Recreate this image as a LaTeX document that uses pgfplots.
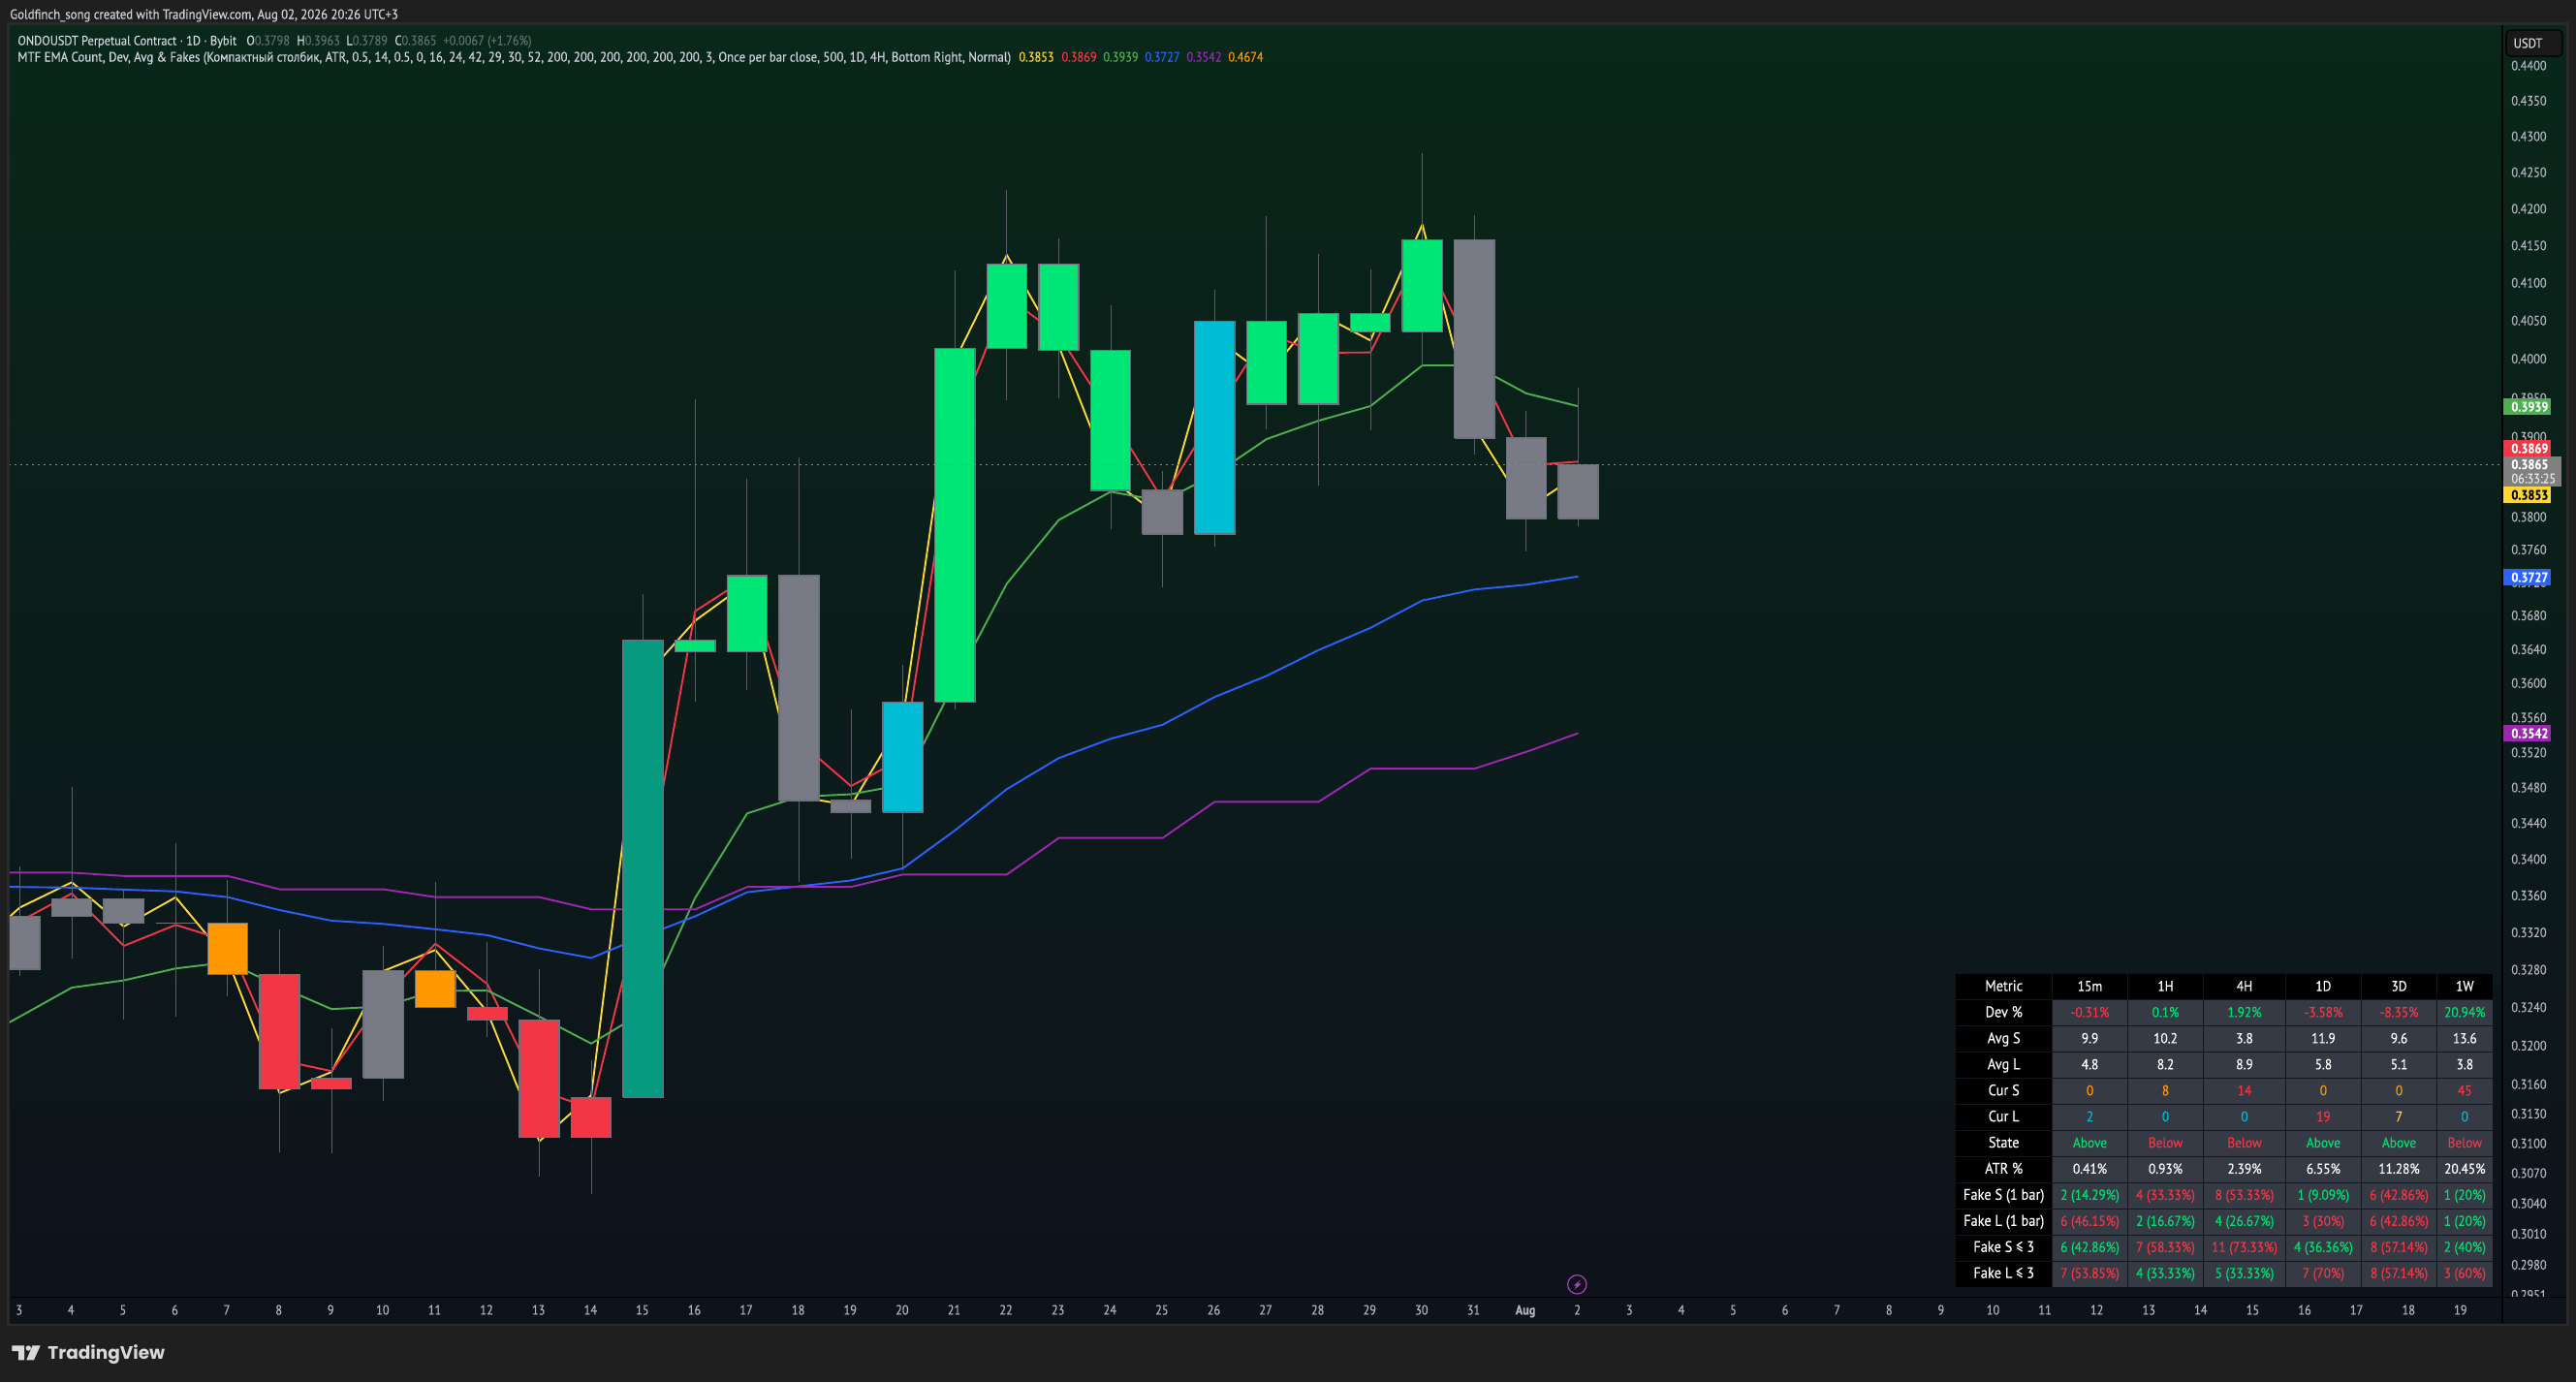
\documentclass[border=0pt]{standalone}
\usepackage{fontspec}
\usepackage{pgfplots}
\usepackage{pgfplotstable}
\pgfplotsset{compat=1.18}
\setmainfont[FakeStretch=0.91,FakeBold=0.25]{PT Sans}
\newfontfamily\tickfam[FakeStretch=0.88,FakeBold=0.25]{PT Sans}
\newfontfamily\pop{Poppins}
\newcommand{\tf}{\fontsize{7}{8.4}\selectfont}
\newcommand{\tkf}{\tickfam\fontsize{7}{8.4}\selectfont}
\newcommand{\lf}{\fontsize{7.9}{9}\selectfont}
\newcommand{\vf}{\fontsize{7.35}{9}\selectfont}
\definecolor{outer}{HTML}{1F1F1F}
\definecolor{frame}{HTML}{2A2A2A}
\definecolor{gtop}{HTML}{09271A}
\definecolor{gbot}{HTML}{0E121B}
\definecolor{strip}{HTML}{0E131C}
\definecolor{axt}{HTML}{B2B5BE}
\definecolor{legt}{HTML}{D1D4DC}
\definecolor{dimt}{HTML}{5F6F6A}
\definecolor{wick}{HTML}{5A5D66}
\definecolor{edge}{HTML}{6E717B}
\definecolor{cg}{HTML}{00E676}
\definecolor{ct}{HTML}{089981}
\definecolor{cc}{HTML}{00BCD4}
\definecolor{cy}{HTML}{787B86}
\definecolor{co}{HTML}{FF9800}
\definecolor{cr}{HTML}{F23645}
\definecolor{yel}{HTML}{FDD835}
\definecolor{grn}{HTML}{4CAF50}
\definecolor{blu}{HTML}{2962FF}
\definecolor{pur}{HTML}{9C27B0}
\definecolor{cellc}{HTML}{363A45}
\definecolor{sepc}{HTML}{11171F}
\definecolor{tg}{HTML}{00E070}
\definecolor{flaggray}{HTML}{808080}

\pgfplotstableread{
i   yel     red     grn     blu     pur
-1  0.32968 0.33300 0.32005 0.33703 0.33848
0   0.33469 0.33319 0.32303 0.33692 0.33848
1   0.33745 0.33621 0.32608 0.33685 0.33848
2   0.33263 0.33052 0.32685 0.33663 0.33812
3   0.33579 0.33280 0.32811 0.33642 0.33812
4   0.32903 0.33107 0.32878 0.33583 0.33812
5   0.31510 0.31850 0.32619 0.33441 0.33668
6   0.31725 0.31734 0.32382 0.33325 0.33668
7   0.32783 0.32492 0.32409 0.33291 0.33668
8   0.33010 0.33080 0.32574 0.33232 0.33583
9   0.32351 0.32646 0.32577 0.33169 0.33583
10  0.31019 0.31536 0.32303 0.33024 0.33583
11  0.31487 0.31355 0.32022 0.32924 0.33449
12  0.36052 0.33586 0.32348 0.33156 0.33449
13  0.36740 0.36856 0.33572 0.33372 0.33449
14  0.37190 0.37260 0.34507 0.33636 0.33694
15  0.34696 0.35327 0.34696 0.33700 0.33694
16  0.34596 0.34815 0.34724 0.33762 0.33694
17  0.35589 0.35134 0.34832 0.33897 0.33831
18  0.39983 0.39114 0.36014 0.34317 0.33831
19  0.41373 0.40817 0.37184 0.34781 0.33831
20  0.40166 0.40308 0.37962 0.35134 0.34232
21  0.38481 0.39268 0.38312 0.35356 0.34232
22  0.37976 0.38216 0.38196 0.35515 0.34232
23  0.40275 0.39294 0.38527 0.35837 0.34640
24  0.39783 0.40330 0.38973 0.36083 0.34640
25  0.40595 0.40078 0.39212 0.36388 0.34640
26  0.40238 0.40082 0.39393 0.36651 0.35012
27  0.41784 0.41447 0.39918 0.36982 0.35012
28  0.39129 0.40002 0.39918 0.37113 0.35012
29  0.38096 0.38644 0.39554 0.37171 0.35204
30  0.38530 0.38690 0.39390 0.37270 0.35420
}\ema

% index, low, body bottom, body top, high, colour
\newcommand{\candle}[6]{%
  \pgfmathsetmacro\xl{#1-0.385}\pgfmathsetmacro\xr{#1+0.385}%
  \addplot[draw=wick,line width=0.5pt] coordinates {(#1,#2)(#1,#5)};%
  \edef\tmp{\noexpand\addplot[fill=#6,draw=edge,line width=0.7pt] coordinates {(\xl,#3)(\xr,#3)(\xr,#4)(\xl,#4)(\xl,#3)};}\tmp
}
\newcommand{\tc}[4]{\node[text=#3,font=\vf,inner sep=0pt,anchor=base] at (#1,{1005+26.92*#2+17.5}) {#4};}
\newcommand{\tl}[2]{\node[text=white,font=\lf,inner sep=0pt,anchor=base] at (2067.7,{1005+26.92*#1+17.5}) {#2};}
\newcommand{\flag}[5]{\fill[#3] (2583,#1) rectangle (2632,#2);
  \node[text=#4,font=\tkf\bfseries,inner sep=0pt,anchor=base west] at (2591,{(#1+#2)/2+5}) {#5};}
\def\cB{2156.5}\def\cC{2234.5}\def\cD{2316}\def\cE{2397.4}\def\cF{2475.5}\def\cG{2543.3}

\begin{document}
\begin{tikzpicture}
\useasboundingbox (0pt,0pt) rectangle (1329pt,-713pt);
\begin{scope}[x=0.5pt,y=-0.5pt]
\fill[outer] (0,0) rectangle (2658,1426);
\fill[frame] (7,23) rectangle (2651,1368);
\shade[top color=gtop,bottom color=gbot] (10.5,26) rectangle (2647.5,1365);
\end{scope}

\begin{axis}[
  at={(5pt,-669pt)},anchor=south west,
  scale only axis,width=1286pt,height=656pt,
  ymode=log,
  xmin=-0.1959,xmax=47.79,ymin=0.2949,ymax=0.44579,
  axis line style={draw=none},
  major tick length=0pt,minor tick length=0pt,
  tick style={draw=none},
  yticklabel pos=right,
  scaled y ticks=false,
  ytick={0.44,0.435,0.43,0.425,0.42,0.415,0.41,0.405,0.4,0.395,0.39,0.38,0.376,0.372,0.368,0.364,0.36,0.356,0.352,0.348,0.344,0.34,0.336,0.332,0.328,0.324,0.32,0.316,0.313,0.31,0.307,0.304,0.301,0.298,0.2951},
  yticklabels={0.4400,0.4350,0.4300,0.4250,0.4200,0.4150,0.4100,0.4050,0.4000,0.3950,0.3900,0.3800,0.3760,0.3720,0.3680,0.3640,0.3600,0.3560,0.3520,0.3480,0.3440,0.3400,0.3360,0.3320,0.3280,0.3240,0.3200,0.3160,0.3130,0.3100,0.3070,0.3040,0.3010,0.2980,0.2951},
  yticklabel style={anchor=west,inner sep=0pt,xshift=4.5pt,font=\tkf,text=axt},
  xtick={0,1,...,47},
  xticklabels={3,4,5,6,7,8,9,10,11,12,13,14,15,16,17,18,19,20,21,22,23,24,25,26,27,28,29,30,31,\textbf{Aug},2,3,4,5,6,7,8,9,10,11,12,13,14,15,16,17,18,19},
  xticklabel style={anchor=base,yshift=-9.2pt,xshift=-0.4pt,inner sep=0pt,font=\tkf,text=axt},
  no markers,
  axis background/.style={fill=none},
]
\addplot[yel,line width=0.95pt,line join=round] table[x=i,y=yel]{\ema};
\addplot[cr,line width=0.95pt,line join=round] table[x=i,y=red]{\ema};
\addplot[grn,line width=0.95pt,line join=round] table[x=i,y=grn]{\ema};
\addplot[blu,line width=0.95pt,line join=round] table[x=i,y=blu]{\ema};
\addplot[pur,line width=0.95pt,line join=round] table[x=i,y=pur]{\ema};
\candle{0}{0.32732}{0.32805}{0.33369}{0.33917}{cy}
\candle{1}{0.32920}{0.33369}{0.33562}{0.34803}{cy}
\candle{2}{0.32271}{0.33296}{0.33562}{0.33674}{cy}
\candle{3}{0.32299}{0.33296}{0.33296}{0.34174}{cy}
\candle{4}{0.32513}{0.32746}{0.33296}{0.33769}{co}
\candle{5}{0.30908}{0.31553}{0.32746}{0.33228}{cr}
\candle{6}{0.30898}{0.31553}{0.31662}{0.32177}{cr}
\candle{7}{0.31431}{0.31662}{0.32788}{0.33052}{cy}
\candle{8}{0.32396}{0.32396}{0.32788}{0.33745}{co}
\candle{9}{0.32089}{0.32265}{0.32396}{0.33093}{cr}
\candle{10}{0.30666}{0.31059}{0.32265}{0.32801}{cr}
\candle{11}{0.30494}{0.31059}{0.31464}{0.31844}{cr}
\candle{12}{0.31464}{0.31464}{0.36503}{0.37058}{ct}
\candle{13}{0.35783}{0.36367}{0.36503}{0.39479}{cg}
\candle{14}{0.35918}{0.36367}{0.37284}{0.38481}{cg}
\candle{15}{0.33742}{0.34653}{0.37284}{0.38750}{cy}
\candle{16}{0.34008}{0.34523}{0.34653}{0.35690}{cy}
\candle{17}{0.33876}{0.34523}{0.35783}{0.36214}{cc}
\candle{18}{0.35690}{0.35783}{0.40133}{0.41165}{cg}
\candle{19}{0.39472}{0.40133}{0.41249}{0.42256}{cg}
\candle{20}{0.39489}{0.40108}{0.41249}{0.41595}{cg}
\candle{21}{0.37848}{0.38331}{0.40108}{0.40704}{cg}
\candle{22}{0.37138}{0.37789}{0.38331}{0.38567}{cy}
\candle{23}{0.37631}{0.37789}{0.40488}{0.40905}{cc}
\candle{24}{0.39104}{0.39418}{0.40488}{0.41898}{cg}
\candle{25}{0.38384}{0.39418}{0.40595}{0.41386}{cg}
\candle{26}{0.39083}{0.40352}{0.40595}{0.41178}{cg}
\candle{27}{0.39926}{0.40352}{0.41578}{0.42761}{cg}
\candle{28}{0.38786}{0.38988}{0.41578}{0.41912}{cy}
\candle{29}{0.37575}{0.37980}{0.38988}{0.39327}{cy}
\candle{30}{0.37890}{0.37980}{0.38650}{0.39630}{cy}
\addplot[axt!75!black,line width=0.5pt,dash pattern=on 1pt off 2pt] coordinates {(-1,0.3865)(48,0.3865)};
\end{axis}

\begin{scope}[x=0.5pt,y=-0.5pt]
% axis borders
\fill[strip] (2582,1338) rectangle (2647.5,1365);
\draw[black,line width=0.7pt] (2582,26) -- (2582,1365);
\draw[black,line width=0.7pt] (10.5,1338.3) -- (2647.5,1338.3);
% header
\node[text=legt,font=\tf,inner sep=0pt,anchor=base west] at (10,19.5) {Goldfinch\_song created with TradingView.com, Aug 02, 2026 20:26 UTC+3};
\node[text=legt,font=\fontsize{6.8}{8}\selectfont,inner sep=0pt,anchor=base west] at (18,46.5) {ONDOUSDT Perpetual Contract · 1D · Bybit};
\node[text=legt,font=\tkf,inner sep=0pt,anchor=base west] at (254,46.5) {O\textcolor{dimt}{0.3798}};
\node[text=legt,font=\tkf,inner sep=0pt,anchor=base west] at (306,46.5) {H\textcolor{dimt}{0.3963}};
\node[text=legt,font=\tkf,inner sep=0pt,anchor=base west] at (357,46.5) {L\textcolor{dimt}{0.3789}};
\node[text=legt,font=\tkf,inner sep=0pt,anchor=base west] at (407,46.5) {C\textcolor{dimt}{0.3865}};
\node[text=dimt,font=\tkf,inner sep=0pt,anchor=base west] at (457,46.5) {+0.0067 (+1.76\%)};
\node[text=legt,font=\fontsize{7.04}{8.4}\selectfont,inner sep=0pt,anchor=base west] at (18,63.5) {MTF EMA Count, Dev, Avg \& Fakes (Компактный столбик, ATR, 0.5, 14, 0.5, 0, 16, 24, 42, 29, 30, 52, 200, 200, 200, 200, 200, 200, 3, Once per bar close, 500, 1D, 4H, Bottom Right, Normal)};
\node[text=yel,font=\tkf,inner sep=0pt,anchor=base west] at (1051,63.5) {0.3853};
\node[text=cr,font=\tkf,inner sep=0pt,anchor=base west] at (1095,63.5) {0.3869};
\node[text=grn,font=\tkf,inner sep=0pt,anchor=base west] at (1138,63.5) {0.3939};
\node[text=blu,font=\tkf,inner sep=0pt,anchor=base west] at (1181,63.5) {0.3727};
\node[text=pur,font=\tkf,inner sep=0pt,anchor=base west] at (1224,63.5) {0.3542};
\node[text=co,font=\tkf,inner sep=0pt,anchor=base west] at (1267,63.5) {0.4674};
% USDT button
\draw[fill=black!90!white,draw=frame!130!white,rounded corners=2pt,line width=0.6pt] (2586,31) rectangle (2644,58);
\node[text=legt,font=\tf,inner sep=0pt] at (2608.5,44.5) {USDT};
% price flags
\flag{411}{428}{grn}{white}{0.3939}
\flag{454}{471}{cr}{white}{0.3869}
\fill[flaggray] (2583,471) rectangle (2643,502);
\node[text=white,font=\tkf\bfseries,inner sep=0pt,anchor=base west] at (2591,484) {0.3865};
\node[text=white!80!gray,font=\tkf,inner sep=0pt,anchor=base west] at (2591,498.5) {06:33:25};
\flag{502}{519}{yel}{black}{0.3853}
\flag{587}{604}{blu}{white}{0.3727}
\flag{748}{765}{pur}{white}{0.3542}
% table
\fill[cellc] (2117.5,1005) rectangle (2572,1328);
\fill[black] (2018,1005) rectangle (2572,1031.9);
\fill[black] (2018,1005) rectangle (2117.5,1328);
\foreach \x in {2117.5,2195.5,2273.6,2358.4,2436.4,2514.5}{\draw[sepc,line width=0.5pt] (\x,1005) -- (\x,1328);}
\foreach \r in {1,...,11}{\draw[sepc,line width=0.5pt] (2018,{1005+26.92*\r}) -- (2572,{1005+26.92*\r});}
\tl{0}{Metric}\tc{\cB}{0}{white}{15m}\tc{\cC}{0}{white}{1H}\tc{\cD}{0}{white}{4H}\tc{\cE}{0}{white}{1D}\tc{\cF}{0}{white}{3D}\tc{\cG}{0}{white}{1W}
\tl{1}{Dev \%}\tc{\cB}{1}{cr}{-0.31\%}\tc{\cC}{1}{tg}{0.1\%}\tc{\cD}{1}{tg}{1.92\%}\tc{\cE}{1}{cr}{-3.58\%}\tc{\cF}{1}{cr}{-8.35\%}\tc{\cG}{1}{tg}{20.94\%}
\tl{2}{Avg S}\tc{\cB}{2}{white}{9.9}\tc{\cC}{2}{white}{10.2}\tc{\cD}{2}{white}{3.8}\tc{\cE}{2}{white}{11.9}\tc{\cF}{2}{white}{9.6}\tc{\cG}{2}{white}{13.6}
\tl{3}{Avg L}\tc{\cB}{3}{white}{4.8}\tc{\cC}{3}{white}{8.2}\tc{\cD}{3}{white}{8.9}\tc{\cE}{3}{white}{5.8}\tc{\cF}{3}{white}{5.1}\tc{\cG}{3}{white}{3.8}
\tl{4}{Cur S}\tc{\cB}{4}{co}{0}\tc{\cC}{4}{co}{8}\tc{\cD}{4}{cr}{14}\tc{\cE}{4}{co}{0}\tc{\cF}{4}{co}{0}\tc{\cG}{4}{cr}{45}
\tl{5}{Cur L}\tc{\cB}{5}{cc}{2}\tc{\cC}{5}{cc}{0}\tc{\cD}{5}{cc}{0}\tc{\cE}{5}{cr}{19}\tc{\cF}{5}{yel}{7}\tc{\cG}{5}{cc}{0}
\tl{6}{State}\tc{\cB}{6}{tg}{Above}\tc{\cC}{6}{cr}{Below}\tc{\cD}{6}{cr}{Below}\tc{\cE}{6}{tg}{Above}\tc{\cF}{6}{tg}{Above}\tc{\cG}{6}{cr}{Below}
\tl{7}{ATR \%}\tc{\cB}{7}{white}{0.41\%}\tc{\cC}{7}{white}{0.93\%}\tc{\cD}{7}{white}{2.39\%}\tc{\cE}{7}{white}{6.55\%}\tc{\cF}{7}{white}{11.28\%}\tc{\cG}{7}{white}{20.45\%}
\tl{8}{Fake S (1 bar)}\tc{\cB}{8}{tg}{2 (14.29\%)}\tc{\cC}{8}{cr}{4 (33.33\%)}\tc{\cD}{8}{cr}{8 (53.33\%)}\tc{\cE}{8}{tg}{1 (9.09\%)}\tc{\cF}{8}{cr}{6 (42.86\%)}\tc{\cG}{8}{tg}{1 (20\%)}
\tl{9}{Fake L (1 bar)}\tc{\cB}{9}{cr}{6 (46.15\%)}\tc{\cC}{9}{tg}{2 (16.67\%)}\tc{\cD}{9}{tg}{4 (26.67\%)}\tc{\cE}{9}{cr}{3 (30\%)}\tc{\cF}{9}{cr}{6 (42.86\%)}\tc{\cG}{9}{tg}{1 (20\%)}
\tl{10}{Fake S ≤ 3}\tc{\cB}{10}{tg}{6 (42.86\%)}\tc{\cC}{10}{cr}{7 (58.33\%)}\tc{\cD}{10}{cr}{11 (73.33\%)}\tc{\cE}{10}{tg}{4 (36.36\%)}\tc{\cF}{10}{cr}{8 (57.14\%)}\tc{\cG}{10}{tg}{2 (40\%)}
\tl{11}{Fake L ≤ 3}\tc{\cB}{11}{cr}{7 (53.85\%)}\tc{\cC}{11}{tg}{4 (33.33\%)}\tc{\cD}{11}{tg}{5 (33.33\%)}\tc{\cE}{11}{cr}{7 (70\%)}\tc{\cF}{11}{cr}{8 (57.14\%)}\tc{\cG}{11}{cr}{3 (60\%)}
% lightning mark
\draw[pur!85!white,line width=0.55pt] (1627.3,1325.3) circle (9.7);
\fill[pur!85!white] (1630.7,1320.7) -- (1623.7,1326.7) -- (1626.7,1326.7) -- (1624.7,1330.7) -- (1631.7,1324.3) -- (1628.3,1324.3) -- cycle;
% TradingView mark
\fill[white!85!black] (12.3,1388.3) -- (25,1388.3) -- (25,1403.3) -- (19,1403.3) -- (19,1394) -- (12.3,1394) -- cycle;
\fill[white!85!black] (29.3,1391) circle (2.7);
\fill[white!85!black] (33.5,1388.3) -- (41.7,1388.3) -- (35,1403.3) -- (27.3,1403.3) -- cycle;
\node[text=white!85!black,font={\pop\bfseries\fontsize{9.25}{11}\selectfont},inner sep=0pt,anchor=base west] at (49,1402) {TradingView};
\end{scope}
\end{tikzpicture}
\end{document}
